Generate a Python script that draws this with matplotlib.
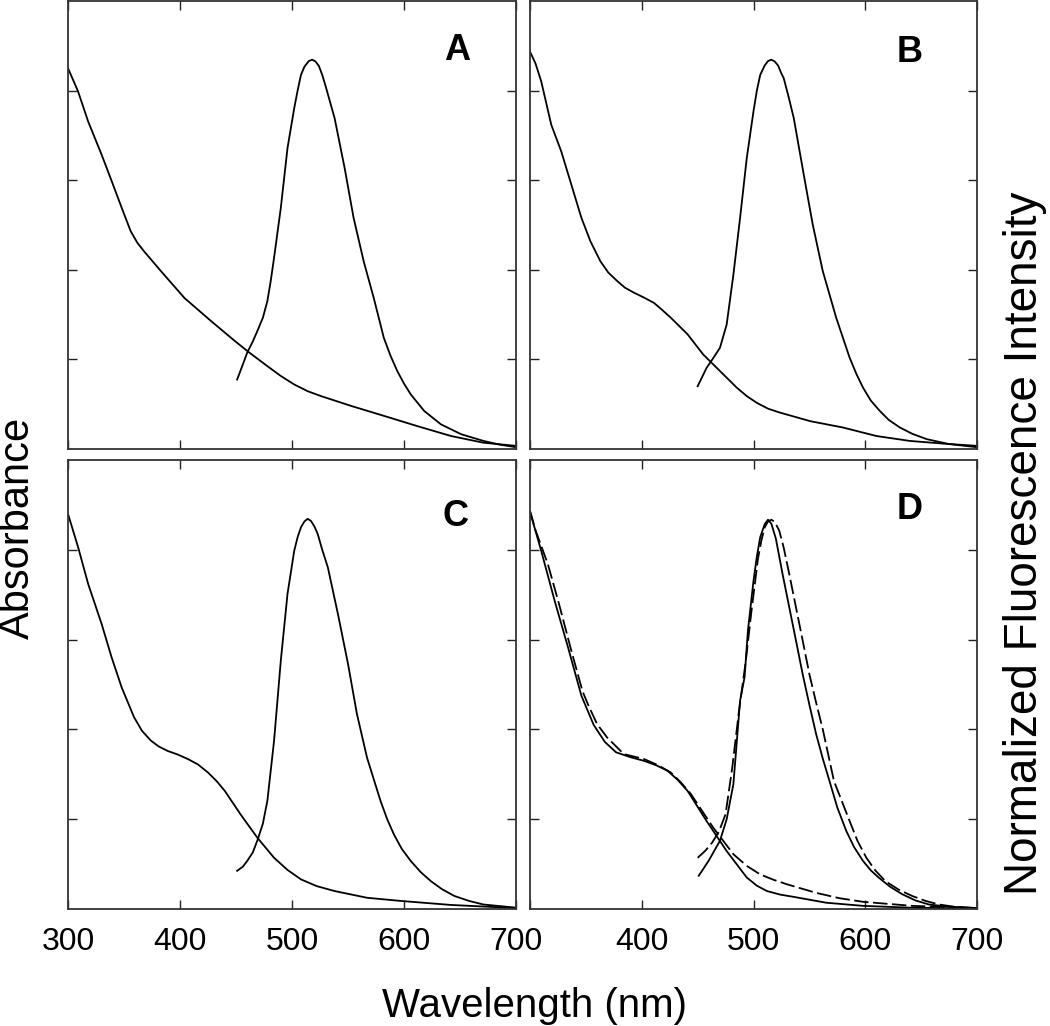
import numpy as np
import matplotlib
matplotlib.use('Agg')
import matplotlib.pyplot as plt

plt.rcParams['font.family'] = ['Liberation Sans', 'DejaVu Sans']

# absorbance + emission curves (normalized units)
a_abs_wl = [300, 309, 318, 330, 339, 348, 356, 362, 368, 383, 404, 428, 449, 462, 478, 490, 502, 514, 526, 553, 582,
            612, 642, 671, 700]
a_abs = [0.850, 0.798, 0.731, 0.657, 0.598, 0.538, 0.486, 0.460, 0.441, 0.397, 0.337, 0.285, 0.241, 0.215, 0.185,
         0.163, 0.144, 0.129, 0.118, 0.096, 0.074, 0.051, 0.029, 0.014, 0.007]
a_em_wl = [451, 456, 460, 465, 469, 474, 478, 481, 484, 490, 496, 502, 505, 508, 511, 515, 518, 521, 524, 527, 530,
           538, 547, 555, 564, 573, 582, 588, 594, 600, 606, 618, 633, 651, 671, 685, 700]
a_em = [0.155, 0.188, 0.215, 0.240, 0.263, 0.293, 0.330, 0.375, 0.427, 0.538, 0.672, 0.761, 0.800, 0.835, 0.853,
        0.866, 0.869, 0.865, 0.855, 0.835, 0.810, 0.739, 0.627, 0.516, 0.419, 0.337, 0.248, 0.208, 0.174, 0.146,
        0.122, 0.085, 0.055, 0.033, 0.018, 0.010, 0.004]

b_abs_wl = [300, 305, 310, 319, 328, 337, 346, 354, 363, 370, 378, 385, 393, 402, 411, 418, 426, 441, 455, 470, 485,
            494, 503, 513, 524, 551, 580, 610, 640, 670, 700]
b_abs = [0.887, 0.860, 0.821, 0.724, 0.664, 0.590, 0.516, 0.464, 0.419, 0.394, 0.375, 0.360, 0.349, 0.338, 0.326,
         0.311, 0.293, 0.256, 0.211, 0.174, 0.137, 0.118, 0.103, 0.090, 0.081, 0.062, 0.048, 0.029, 0.018, 0.012, 0.007]
b_em_wl = [450, 458, 464, 470, 476, 482, 488, 494, 500, 503, 506, 510, 513, 516, 519, 522, 525, 527, 531, 536, 545,
           553, 562, 574, 586, 592, 598, 605, 613, 621, 631, 642, 655, 675, 700]
b_em = [0.140, 0.181, 0.203, 0.226, 0.278, 0.389, 0.516, 0.650, 0.754, 0.800, 0.835, 0.856, 0.866, 0.869, 0.865,
        0.856, 0.838, 0.828, 0.790, 0.739, 0.612, 0.501, 0.397, 0.293, 0.204, 0.168, 0.137, 0.108, 0.085, 0.065,
        0.048, 0.034, 0.022, 0.011, 0.004]

c_abs_wl = [300, 309, 318, 330, 339, 348, 359, 366, 374, 381, 389, 398, 407, 416, 425, 433, 440, 454, 469, 484, 496,
            508, 522, 538, 567, 597, 642, 700]
c_abs = [0.880, 0.806, 0.724, 0.635, 0.560, 0.493, 0.427, 0.397, 0.375, 0.362, 0.352, 0.344, 0.334, 0.322, 0.304,
         0.284, 0.263, 0.211, 0.159, 0.114, 0.087, 0.066, 0.051, 0.040, 0.025, 0.018, 0.009, 0.002]
c_em_wl = [451, 456, 460, 465, 469, 474, 478, 484, 490, 496, 502, 505, 508, 511, 514, 517, 520, 523, 527, 532, 541,
           550, 558, 567, 579, 585, 591, 598, 606, 615, 624, 634, 645, 658, 671, 700]
c_em = [0.085, 0.094, 0.107, 0.126, 0.152, 0.190, 0.241, 0.375, 0.553, 0.702, 0.798, 0.828, 0.850, 0.863, 0.869,
        0.864, 0.852, 0.835, 0.800, 0.761, 0.657, 0.546, 0.434, 0.337, 0.241, 0.200, 0.166, 0.134, 0.107, 0.082,
        0.062, 0.044, 0.029, 0.018, 0.010, 0.003]

d_abs_wl = [300, 310, 322, 334, 346, 357, 367, 377, 390, 402, 413, 423, 432, 441, 458, 476, 494, 503, 512, 524, 536,
            565, 598, 640, 700]
d_abs = [0.885, 0.798, 0.687, 0.583, 0.475, 0.410, 0.372, 0.349, 0.338, 0.330, 0.320, 0.308, 0.288, 0.263, 0.196,
         0.129, 0.070, 0.052, 0.040, 0.032, 0.027, 0.014, 0.007, 0.003, 0.001]
d_abs2_wl = [300, 305, 316, 326, 337, 347, 352, 360, 369, 384, 402, 414, 426, 435, 444, 464, 482, 494, 506, 518, 530,
             556, 577, 598, 642, 700]
d_abs2 = [0.887, 0.843, 0.768, 0.679, 0.575, 0.485, 0.455, 0.412, 0.382, 0.345, 0.334, 0.321, 0.304, 0.282, 0.256,
          0.181, 0.122, 0.096, 0.077, 0.065, 0.055, 0.036, 0.024, 0.016, 0.007, 0.002]
d_em_wl = [451, 460, 470, 476, 482, 488, 492, 495, 500, 503, 506, 510, 513, 516, 520, 526, 532, 538, 544, 550, 556,
           562, 568, 575, 583, 590, 598, 605, 612, 622, 633, 645, 657, 675, 700]
d_em = [0.074, 0.108, 0.152, 0.200, 0.278, 0.464, 0.516, 0.620, 0.731, 0.785, 0.828, 0.857, 0.867, 0.858, 0.825,
        0.746, 0.672, 0.598, 0.523, 0.455, 0.390, 0.335, 0.285, 0.226, 0.174, 0.138, 0.107, 0.086, 0.070, 0.050,
        0.033, 0.019, 0.010, 0.005, 0.002]
d_em2_wl = [450, 457, 463, 469, 475, 481, 487, 493, 498, 504, 507, 510, 513, 516, 519, 523, 527, 532, 538, 544, 550,
            556, 562, 572, 586, 593, 601, 609, 618, 630, 642, 654, 666, 680, 700]
d_em2 = [0.114, 0.130, 0.148, 0.172, 0.211, 0.315, 0.441, 0.550, 0.660, 0.780, 0.820, 0.850, 0.863, 0.867, 0.862,
         0.843, 0.805, 0.746, 0.672, 0.598, 0.523, 0.460, 0.400, 0.285, 0.196, 0.152, 0.114, 0.086, 0.062, 0.043,
         0.029, 0.018, 0.010, 0.005, 0.002]

fig = plt.figure(figsize=(10.5, 10.26), dpi=100)

W, H = 1050, 1026
boxes = {
    'A': [68 / W, 1 - 449 / H, 448 / W, 448 / H],
    'B': [530 / W, 1 - 449 / H, 447 / W, 448 / H],
    'C': [68 / W, 1 - 909 / H, 448 / W, 449 / H],
    'D': [530 / W, 1 - 909 / H, 447 / W, 449 / H],
}
letter_pos = {'A': (0.868, 0.89), 'B': (0.85, 0.884), 'C': (0.864, 0.875), 'D': (0.85, 0.889)}

curves = {
    'A': [(a_abs_wl, a_abs, '-'), (a_em_wl, a_em, '-')],
    'B': [(b_abs_wl, b_abs, '-'), (b_em_wl, b_em, '-')],
    'C': [(c_abs_wl, c_abs, '-'), (c_em_wl, c_em, '-')],
    'D': [(d_abs_wl, d_abs, '-'), (d_abs2_wl, d_abs2, '--'), (d_em_wl, d_em, '-'), (d_em2_wl, d_em2, '--')],
}

xticks = [300, 400, 500, 600, 700]

for name in ['A', 'B', 'C', 'D']:
    ax = fig.add_axes(boxes[name])
    for x, y, ls in curves[name]:
        if ls == '--':
            ax.plot(x, y, color='black', lw=1.3, dashes=(8, 2.5))
        else:
            ax.plot(x, y, color='black', lw=1.3)
    ax.set_xlim(300, 700)
    ax.set_ylim(0, 1)
    ax.set_xticks(xticks)
    ax.set_yticks([0.2, 0.4, 0.6, 0.8])
    ax.tick_params(direction='in', length=6.5, width=1.0, color='#222222',
                   top=True, right=True, labelleft=False, labelsize=23, pad=13)
    if name in ('A', 'B'):
        ax.tick_params(labelbottom=False)
    if name == 'D':
        # the shared 300 label is drawn only once (by panel C)
        ax.set_xticklabels([''] + [str(t) for t in xticks[1:]])
    for s in ax.spines.values():
        s.set_linewidth(1.3)
        s.set_color('#333333')
    lx, ly = letter_pos[name]
    ax.text(lx, ly, name, transform=ax.transAxes, fontsize=26, fontweight='bold',
            ha='center', va='center')

fig.text(535 / W, 1 - 1017 / H, 'Wavelength (nm)', fontsize=29, ha='center', va='baseline')
fig.text(18 / W, 1 - 528 / H, 'Absorbance', fontsize=30, rotation=90, ha='center', va='center')
fig.text(1025 / W, 1 - 543 / H, 'Normalized Fluorescence Intensity', fontsize=33, rotation=90,
         ha='center', va='center')

fig.savefig('out.png', dpi=100)
